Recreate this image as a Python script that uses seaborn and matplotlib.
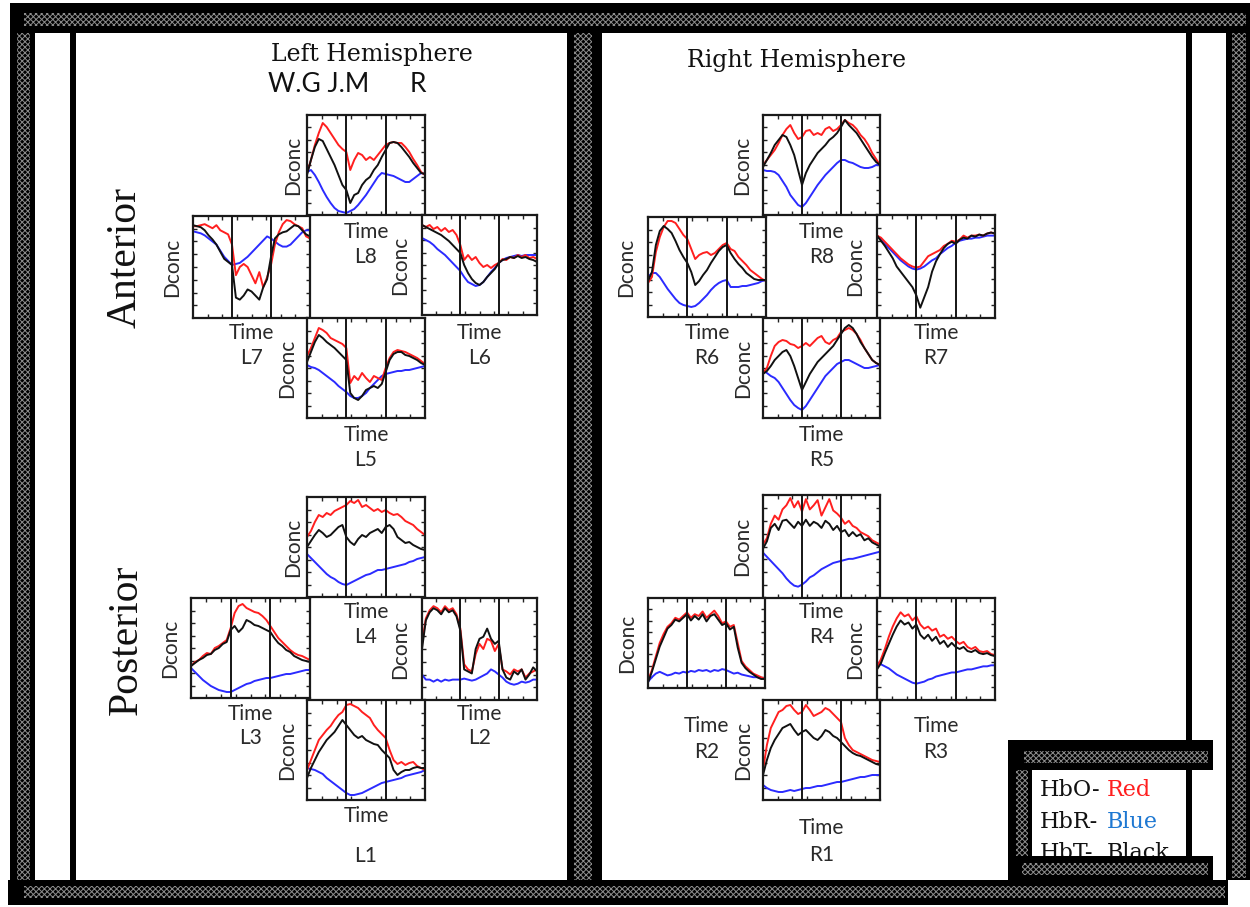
import numpy as np
import pandas as pd
import matplotlib
matplotlib.use("Agg")
import matplotlib.pyplot as plt
from matplotlib.patches import Rectangle
import seaborn as sns

# ---------------------------------------------------------------------------
# Block-averaged fNIRS responses per channel (normalised Dconc, 31 samples).
# Stimulus markers sit at samples 10 and 20.
# ---------------------------------------------------------------------------
time = np.arange(31)
markers = [10, 20]

hbo_L8 = [0.42,0.55,0.70,0.82,0.92,0.88,0.82,0.76,0.70,0.66,0.63,0.45,0.55,0.62,0.60,0.55,0.58,0.55,0.60,0.65,0.70,0.72,0.73,0.72,0.72,0.68,0.63,0.56,0.50,0.43,0.40]
hbt_L8 = [0.40,0.55,0.68,0.76,0.74,0.66,0.58,0.50,0.40,0.30,0.25,0.12,0.20,0.22,0.30,0.35,0.38,0.45,0.50,0.58,0.65,0.72,0.73,0.72,0.68,0.63,0.58,0.52,0.47,0.42,0.41]
hbr_L8 = [0.43,0.45,0.40,0.33,0.25,0.18,0.12,0.07,0.04,0.03,0.02,0.04,0.06,0.10,0.15,0.20,0.26,0.32,0.38,0.42,0.41,0.40,0.39,0.37,0.35,0.33,0.33,0.36,0.39,0.42,0.41]

hbo_L7 = [0.90,0.90,0.91,0.92,0.90,0.88,0.91,0.86,0.84,0.82,0.72,0.42,0.50,0.53,0.50,0.42,0.34,0.45,0.30,0.40,0.52,0.72,0.84,0.92,0.96,0.95,0.92,0.90,0.88,0.80,0.78]
hbt_L7 = [0.91,0.90,0.89,0.86,0.81,0.77,0.72,0.65,0.58,0.55,0.52,0.20,0.18,0.22,0.28,0.26,0.22,0.18,0.30,0.38,0.60,0.78,0.82,0.84,0.85,0.88,0.91,0.90,0.86,0.82,0.80]
hbr_L7 = [0.85,0.84,0.83,0.81,0.78,0.75,0.72,0.66,0.60,0.56,0.52,0.53,0.54,0.57,0.60,0.64,0.68,0.72,0.76,0.80,0.78,0.75,0.72,0.70,0.70,0.72,0.76,0.80,0.84,0.86,0.86]

hbo_L6 = [0.90,0.88,0.90,0.86,0.88,0.84,0.87,0.83,0.85,0.80,0.70,0.55,0.60,0.55,0.58,0.52,0.48,0.50,0.47,0.50,0.52,0.56,0.55,0.58,0.57,0.60,0.58,0.60,0.57,0.58,0.56]
hbt_L6 = [0.90,0.88,0.86,0.84,0.82,0.80,0.77,0.74,0.70,0.66,0.62,0.50,0.42,0.36,0.32,0.30,0.33,0.38,0.42,0.46,0.52,0.55,0.56,0.58,0.57,0.59,0.57,0.58,0.56,0.55,0.53]
hbr_L6 = [0.77,0.75,0.73,0.70,0.66,0.63,0.60,0.56,0.52,0.48,0.44,0.38,0.33,0.31,0.29,0.30,0.33,0.38,0.43,0.47,0.52,0.55,0.57,0.58,0.59,0.60,0.59,0.60,0.60,0.60,0.60]

hbo_L5 = [0.62,0.70,0.80,0.90,0.88,0.85,0.80,0.78,0.76,0.74,0.70,0.35,0.42,0.38,0.45,0.40,0.36,0.42,0.40,0.38,0.50,0.60,0.66,0.68,0.67,0.66,0.64,0.62,0.60,0.57,0.54]
hbt_L5 = [0.56,0.66,0.76,0.83,0.80,0.76,0.73,0.70,0.66,0.62,0.58,0.25,0.20,0.18,0.22,0.28,0.30,0.32,0.30,0.34,0.46,0.58,0.64,0.66,0.66,0.63,0.62,0.60,0.58,0.55,0.53]
hbr_L5 = [0.53,0.51,0.50,0.48,0.45,0.42,0.39,0.36,0.32,0.29,0.26,0.22,0.20,0.20,0.22,0.25,0.30,0.34,0.38,0.42,0.44,0.45,0.46,0.47,0.47,0.48,0.48,0.49,0.50,0.51,0.52]

hbo_L4 = [0.60,0.66,0.75,0.82,0.80,0.84,0.82,0.86,0.88,0.90,0.92,0.96,0.94,0.97,0.90,0.92,0.89,0.86,0.88,0.85,0.87,0.84,0.82,0.83,0.80,0.76,0.74,0.72,0.68,0.65,0.62]
hbt_L4 = [0.50,0.56,0.62,0.67,0.64,0.60,0.62,0.66,0.70,0.72,0.60,0.55,0.52,0.58,0.62,0.60,0.64,0.66,0.68,0.64,0.70,0.72,0.68,0.60,0.57,0.54,0.55,0.52,0.50,0.48,0.47]
hbr_L4 = [0.43,0.39,0.35,0.31,0.27,0.23,0.20,0.18,0.15,0.13,0.12,0.14,0.16,0.18,0.20,0.22,0.23,0.25,0.27,0.27,0.28,0.29,0.30,0.31,0.32,0.33,0.35,0.36,0.38,0.39,0.40]

hbo_L3 = [0.32,0.36,0.38,0.42,0.45,0.44,0.50,0.52,0.55,0.58,0.70,0.85,0.92,0.94,0.90,0.88,0.86,0.85,0.82,0.78,0.72,0.66,0.60,0.56,0.52,0.48,0.45,0.43,0.42,0.40,0.38]
hbt_L3 = [0.32,0.35,0.38,0.40,0.43,0.44,0.48,0.50,0.54,0.56,0.68,0.72,0.66,0.70,0.78,0.76,0.73,0.72,0.70,0.68,0.66,0.60,0.55,0.52,0.48,0.46,0.42,0.40,0.38,0.37,0.36]
hbr_L3 = [0.30,0.26,0.22,0.18,0.15,0.12,0.10,0.08,0.07,0.06,0.06,0.08,0.10,0.12,0.14,0.15,0.17,0.18,0.19,0.20,0.20,0.21,0.22,0.23,0.24,0.24,0.25,0.26,0.27,0.28,0.28]

hbo_L2 = [0.55,0.80,0.88,0.92,0.90,0.86,0.92,0.88,0.90,0.84,0.70,0.35,0.30,0.28,0.45,0.55,0.50,0.60,0.58,0.48,0.55,0.30,0.28,0.25,0.30,0.28,0.30,0.22,0.26,0.28,0.30]
hbt_L2 = [0.50,0.78,0.86,0.90,0.88,0.84,0.90,0.86,0.88,0.82,0.68,0.30,0.28,0.26,0.50,0.60,0.62,0.70,0.60,0.55,0.58,0.30,0.22,0.20,0.28,0.25,0.30,0.20,0.25,0.32,0.28]
hbr_L2 = [0.25,0.20,0.20,0.18,0.20,0.18,0.20,0.19,0.20,0.20,0.20,0.21,0.20,0.19,0.20,0.22,0.24,0.26,0.30,0.28,0.25,0.22,0.18,0.16,0.15,0.16,0.18,0.17,0.18,0.20,0.20]

hbo_L1 = [0.30,0.40,0.50,0.60,0.65,0.70,0.74,0.80,0.85,0.88,0.95,0.96,0.94,0.92,0.88,0.85,0.82,0.75,0.70,0.66,0.62,0.50,0.40,0.36,0.38,0.35,0.37,0.38,0.34,0.32,0.30]
hbt_L1 = [0.22,0.32,0.40,0.48,0.54,0.60,0.64,0.68,0.74,0.80,0.75,0.70,0.65,0.62,0.64,0.60,0.58,0.56,0.55,0.50,0.46,0.42,0.30,0.25,0.28,0.30,0.30,0.32,0.33,0.32,0.32]
hbr_L1 = [0.32,0.31,0.30,0.28,0.26,0.22,0.19,0.16,0.13,0.10,0.07,0.05,0.05,0.06,0.07,0.09,0.11,0.13,0.15,0.17,0.18,0.19,0.20,0.21,0.22,0.24,0.25,0.26,0.27,0.28,0.30]

hbo_R8 = [0.50,0.55,0.60,0.65,0.72,0.80,0.86,0.90,0.82,0.76,0.78,0.84,0.85,0.80,0.82,0.80,0.86,0.88,0.84,0.86,0.90,0.95,0.92,0.90,0.86,0.80,0.76,0.70,0.62,0.56,0.50]
hbt_R8 = [0.48,0.55,0.62,0.70,0.75,0.80,0.78,0.70,0.60,0.45,0.30,0.42,0.50,0.56,0.62,0.66,0.70,0.75,0.78,0.82,0.88,0.95,0.90,0.86,0.82,0.76,0.70,0.64,0.58,0.53,0.50]
hbr_R8 = [0.45,0.44,0.44,0.43,0.40,0.34,0.28,0.20,0.15,0.10,0.08,0.12,0.18,0.24,0.30,0.35,0.40,0.44,0.48,0.52,0.55,0.55,0.53,0.52,0.50,0.48,0.47,0.47,0.48,0.50,0.50]

hbo_R6 = [0.34,0.40,0.65,0.80,0.90,0.96,0.96,0.94,0.88,0.82,0.78,0.68,0.58,0.62,0.64,0.65,0.62,0.64,0.68,0.72,0.74,0.68,0.66,0.60,0.56,0.52,0.47,0.44,0.41,0.38,0.36]
hbt_R6 = [0.36,0.45,0.72,0.86,0.91,0.88,0.84,0.76,0.67,0.60,0.54,0.45,0.32,0.36,0.42,0.47,0.54,0.60,0.66,0.70,0.72,0.64,0.58,0.53,0.49,0.44,0.41,0.38,0.37,0.37,0.37]
hbr_R6 = [0.40,0.44,0.44,0.40,0.34,0.28,0.23,0.18,0.14,0.12,0.11,0.10,0.11,0.14,0.18,0.22,0.27,0.31,0.34,0.36,0.37,0.30,0.30,0.30,0.31,0.31,0.32,0.33,0.34,0.36,0.37]

hbo_R7 = [0.80,0.78,0.74,0.70,0.66,0.62,0.58,0.55,0.52,0.50,0.49,0.50,0.55,0.60,0.62,0.64,0.66,0.70,0.72,0.75,0.74,0.76,0.80,0.78,0.80,0.80,0.81,0.80,0.82,0.83,0.82]
hbt_R7 = [0.80,0.75,0.70,0.64,0.58,0.50,0.45,0.40,0.35,0.30,0.22,0.10,0.20,0.30,0.45,0.55,0.62,0.68,0.72,0.74,0.72,0.76,0.78,0.77,0.80,0.79,0.81,0.80,0.82,0.83,0.82]
hbr_R7 = [0.80,0.76,0.72,0.68,0.64,0.60,0.56,0.53,0.50,0.48,0.47,0.48,0.50,0.53,0.56,0.58,0.62,0.65,0.68,0.70,0.73,0.75,0.76,0.77,0.77,0.78,0.78,0.79,0.80,0.80,0.80]

hbo_R5 = [0.45,0.50,0.62,0.72,0.76,0.78,0.77,0.74,0.73,0.70,0.72,0.75,0.72,0.76,0.80,0.82,0.76,0.74,0.78,0.80,0.86,0.88,0.90,0.88,0.84,0.78,0.70,0.64,0.58,0.55,0.53]
hbt_R5 = [0.44,0.47,0.52,0.58,0.62,0.66,0.68,0.62,0.52,0.40,0.28,0.36,0.44,0.50,0.56,0.60,0.64,0.68,0.72,0.78,0.84,0.90,0.93,0.90,0.84,0.76,0.70,0.64,0.58,0.55,0.53]
hbr_R5 = [0.48,0.45,0.42,0.40,0.36,0.30,0.24,0.18,0.13,0.10,0.08,0.12,0.18,0.24,0.30,0.36,0.42,0.46,0.50,0.54,0.56,0.58,0.58,0.56,0.54,0.52,0.50,0.50,0.51,0.52,0.53]

hbo_R4 = [0.52,0.58,0.72,0.80,0.76,0.86,0.90,0.97,0.88,0.94,0.84,0.96,0.86,0.90,0.95,0.80,0.88,0.96,0.85,0.82,0.78,0.72,0.75,0.70,0.68,0.64,0.62,0.60,0.56,0.54,0.52]
hbt_R4 = [0.48,0.55,0.68,0.72,0.66,0.75,0.76,0.72,0.68,0.74,0.70,0.76,0.70,0.74,0.72,0.68,0.75,0.72,0.66,0.70,0.64,0.66,0.60,0.64,0.60,0.62,0.56,0.58,0.54,0.52,0.50]
hbr_R4 = [0.44,0.40,0.36,0.32,0.28,0.24,0.19,0.15,0.12,0.11,0.13,0.16,0.20,0.22,0.25,0.28,0.30,0.32,0.34,0.35,0.36,0.37,0.38,0.38,0.39,0.40,0.41,0.42,0.43,0.44,0.45]

hbo_R2 = [0.08,0.20,0.35,0.50,0.60,0.68,0.72,0.78,0.76,0.80,0.84,0.78,0.82,0.80,0.85,0.78,0.82,0.86,0.80,0.72,0.74,0.68,0.70,0.50,0.30,0.24,0.20,0.16,0.14,0.12,0.10]
hbt_R2 = [0.06,0.18,0.32,0.46,0.56,0.66,0.70,0.76,0.74,0.78,0.82,0.75,0.80,0.76,0.82,0.74,0.80,0.82,0.76,0.70,0.72,0.65,0.68,0.45,0.28,0.22,0.18,0.15,0.12,0.10,0.10]
hbr_R2 = [0.07,0.12,0.16,0.18,0.16,0.14,0.15,0.17,0.16,0.18,0.17,0.19,0.18,0.20,0.19,0.20,0.18,0.20,0.19,0.21,0.20,0.18,0.16,0.17,0.15,0.14,0.13,0.12,0.12,0.11,0.11]

hbo_R3 = [0.32,0.40,0.50,0.62,0.72,0.80,0.86,0.82,0.84,0.78,0.82,0.74,0.70,0.72,0.68,0.70,0.62,0.64,0.60,0.62,0.58,0.55,0.57,0.52,0.50,0.52,0.48,0.47,0.48,0.45,0.44]
hbt_R3 = [0.30,0.36,0.46,0.55,0.64,0.72,0.78,0.74,0.76,0.70,0.74,0.64,0.60,0.64,0.58,0.62,0.55,0.58,0.52,0.56,0.52,0.50,0.52,0.48,0.47,0.49,0.46,0.45,0.46,0.44,0.43]
hbr_R3 = [0.37,0.35,0.33,0.31,0.28,0.25,0.23,0.21,0.19,0.17,0.16,0.17,0.18,0.20,0.21,0.23,0.24,0.25,0.26,0.27,0.27,0.28,0.29,0.30,0.30,0.31,0.32,0.33,0.33,0.34,0.34]

hbo_R1 = [0.30,0.55,0.72,0.80,0.88,0.90,0.94,0.95,0.90,0.86,0.88,0.95,0.90,0.84,0.86,0.88,0.92,0.90,0.86,0.82,0.78,0.62,0.55,0.50,0.48,0.46,0.44,0.42,0.40,0.39,0.38]
hbt_R1 = [0.25,0.40,0.52,0.60,0.66,0.72,0.74,0.76,0.70,0.65,0.68,0.70,0.66,0.62,0.60,0.64,0.70,0.68,0.64,0.62,0.58,0.54,0.50,0.47,0.45,0.44,0.42,0.40,0.38,0.36,0.35]
hbr_R1 = [0.15,0.12,0.10,0.09,0.08,0.08,0.09,0.10,0.09,0.10,0.11,0.12,0.12,0.13,0.14,0.14,0.15,0.16,0.17,0.18,0.18,0.19,0.20,0.21,0.22,0.23,0.23,0.24,0.25,0.25,0.25]

channel_data = {
    "L8": (hbo_L8, hbr_L8, hbt_L8), "L7": (hbo_L7, hbr_L7, hbt_L7),
    "L6": (hbo_L6, hbr_L6, hbt_L6), "L5": (hbo_L5, hbr_L5, hbt_L5),
    "L4": (hbo_L4, hbr_L4, hbt_L4), "L3": (hbo_L3, hbr_L3, hbt_L3),
    "L2": (hbo_L2, hbr_L2, hbt_L2), "L1": (hbo_L1, hbr_L1, hbt_L1),
    "R8": (hbo_R8, hbr_R8, hbt_R8), "R6": (hbo_R6, hbr_R6, hbt_R6),
    "R7": (hbo_R7, hbr_R7, hbt_R7), "R5": (hbo_R5, hbr_R5, hbt_R5),
    "R4": (hbo_R4, hbr_R4, hbt_R4), "R2": (hbo_R2, hbr_R2, hbt_R2),
    "R3": (hbo_R3, hbr_R3, hbt_R3), "R1": (hbo_R1, hbr_R1, hbt_R1),
}

# ---------------------------------------------------------------------------
# Page layout in pixels (origin top-left)
# axes box: x0, y0, x1, y1 ; label rows: Time y, channel-name y, Dconc x
# ---------------------------------------------------------------------------
W, H = 1250, 907
layout = {
    "L8": ((307, 115, 425, 215), 232, 257, 293),
    "L7": ((193, 216, 310, 318), 333, 358, 172),
    "L6": ((422, 215, 537, 315), 333, 358, 400),
    "L5": ((307, 318, 425, 418), 435, 460, 287),
    "L4": ((307, 497, 425, 597), 612, 637, 293),
    "L3": ((191, 598, 310, 698), 714, 738, 170),
    "L2": ((422, 598, 537, 700), 714, 738, 400),
    "L1": ((307, 700, 425, 800), 816, 856, 287),
    "R8": ((763, 115, 880, 215), 232, 257, 742),
    "R6": ((648, 217, 766, 317), 333, 358, 626),
    "R7": ((877, 215, 995, 318), 333, 358, 855),
    "R5": ((763, 318, 880, 418), 435, 460, 743),
    "R4": ((763, 495, 880, 598), 612, 637, 742),
    "R2": ((648, 598, 765, 688), 726, 752, 627),
    "R3": ((877, 598, 995, 700), 726, 752, 855),
    "R1": ((763, 700, 880, 800), 828, 855, 743),
}

signal_names = ["HbO", "HbR", "HbT"]
palette = {"HbO": "#ff1f1f", "HbR": "#2b2bff", "HbT": "#111111"}
label_color = "#2a2a2a"

sns.set_theme(style="white")
plt.rcParams["font.family"] = ["Lato", "DejaVu Sans"]
plt.rcParams["hatch.linewidth"] = 0.7

fig = plt.figure(figsize=(W / 100, H / 100), dpi=100)
fig.patch.set_facecolor("white")


def fx(x):
    return x / W


def fy(y):
    return 1 - y / H


def px_rect(x0, y0, x1, y1):
    return [fx(x0), fy(y1), (x1 - x0) / W, (y1 - y0) / H]


for name, (box, time_y, name_y, dconc_x) in layout.items():
    hbo, hbr, hbt = channel_data[name]
    df = pd.DataFrame({
        "time": np.tile(time, 3),
        "value": np.concatenate([hbo, hbr, hbt]),
        "signal": np.repeat(signal_names, len(time)),
    })
    ax = fig.add_axes(px_rect(*box))
    ax.set_facecolor("white")
    sns.lineplot(data=df, x="time", y="value", hue="signal",
                 hue_order=["HbR", "HbO", "HbT"], palette=palette,
                 legend=False, linewidth=1.4, ax=ax)
    for m in markers:
        ax.axvline(m, color="#151515", lw=1.4, zorder=5)
    ax.set_xlim(time[0], time[-1])
    ax.set_ylim(0, 1)
    ax.set_xticks(np.linspace(time[0], time[-1], 9)[1:-1])
    ax.set_yticks(np.linspace(0, 1, 9)[1:-1])
    ax.tick_params(direction="in", length=3, width=1, colors="#222222",
                   top=True, right=True, bottom=True, left=True,
                   labelbottom=False, labelleft=False)
    ax.set_xlabel("")
    ax.set_ylabel("")
    for sp in ax.spines.values():
        sp.set_visible(True)
        sp.set_color("#1a1a1a")
        sp.set_linewidth(1.6)

    cx = (box[0] + box[2]) / 2
    cy = (box[1] + box[3]) / 2
    fig.text(fx(cx), fy(time_y), "Time", ha="center", va="center",
             fontsize=15, color=label_color)
    fig.text(fx(cx), fy(name_y), name, ha="center", va="center",
             fontsize=15, color=label_color)
    fig.text(fx(dconc_x), fy(cy), "Dconc", ha="center", va="center",
             rotation=90, fontsize=15, color=label_color)

# Headings
fig.text(fx(372), fy(55), "Left Hemisphere", ha="center", va="center",
         family="DejaVu Serif", fontsize=17, color="#111111")
fig.text(fx(268), fy(84), "W.G J.M", ha="left", va="center",
         fontsize=19, color="#111111")
fig.text(fx(418), fy(84), "R", ha="center", va="center",
         fontsize=19, color="#111111")
fig.text(fx(797), fy(60), "Right Hemisphere", ha="center", va="center",
         family="DejaVu Serif", fontsize=17, color="#111111")
fig.text(fx(125), fy(257), "Anterior", ha="center", va="center", rotation=90,
         family="Liberation Serif", fontsize=30, color="#111111")
fig.text(fx(127), fy(640), "Posterior", ha="center", va="center", rotation=90,
         family="Liberation Serif", fontsize=30, color="#111111")

# Colour key
key_rows = [("HbO-", "Red", "#ff1f1f", 790),
            ("HbR-", "Blue", "#1e78d2", 822),
            ("HbT-", "Black", "#111111", 853)]
for lead, word, col, y in key_rows:
    fig.text(fx(1040), fy(y), lead, ha="left", va="center",
             family="DejaVu Serif", fontsize=16, color="#111111", zorder=3)
    fig.text(fx(1107), fy(y), word, ha="left", va="center",
             family="DejaVu Serif", fontsize=16, color=col, zorder=3)


# Decorative frame: black bands carrying a fine grey stitched pattern
def band(x0, y0, x1, y1, inner=None, z=6):
    fig.add_artist(Rectangle((fx(x0), fy(y1)), (x1 - x0) / W, (y1 - y0) / H,
                             transform=fig.transFigure, facecolor="black",
                             edgecolor="none", lw=0, zorder=z))
    if inner is not None:
        ix0, iy0, ix1, iy1 = inner
        fig.add_artist(Rectangle((fx(ix0), fy(iy1)), (ix1 - ix0) / W,
                                 (iy1 - iy0) / H, transform=fig.transFigure,
                                 facecolor="black", edgecolor="#8c8c8c",
                                 hatch="xxxxxx", lw=0, zorder=z + 0.1))


band(10, 3, 1250, 33, inner=(24, 13, 1246, 26))
band(10, 5, 35, 905, inner=(17, 33, 30, 880))
band(70, 5, 76, 880)
band(567, 5, 602, 905, inner=(574, 33, 592, 880))
band(1186, 5, 1192, 880)
band(1226, 5, 1250, 880, inner=(1232, 33, 1246, 878))
band(8, 880, 1228, 905, inner=(24, 886, 1225, 898))
# key box
band(1010, 740, 1213, 770, inner=(1024, 751, 1208, 763), z=7)
band(1008, 740, 1032, 885, inner=(1016, 770, 1028, 856), z=7)
band(1008, 856, 1213, 885, inner=(1022, 863, 1208, 875), z=7)

fig.savefig("out.png", dpi=100, facecolor="white")
